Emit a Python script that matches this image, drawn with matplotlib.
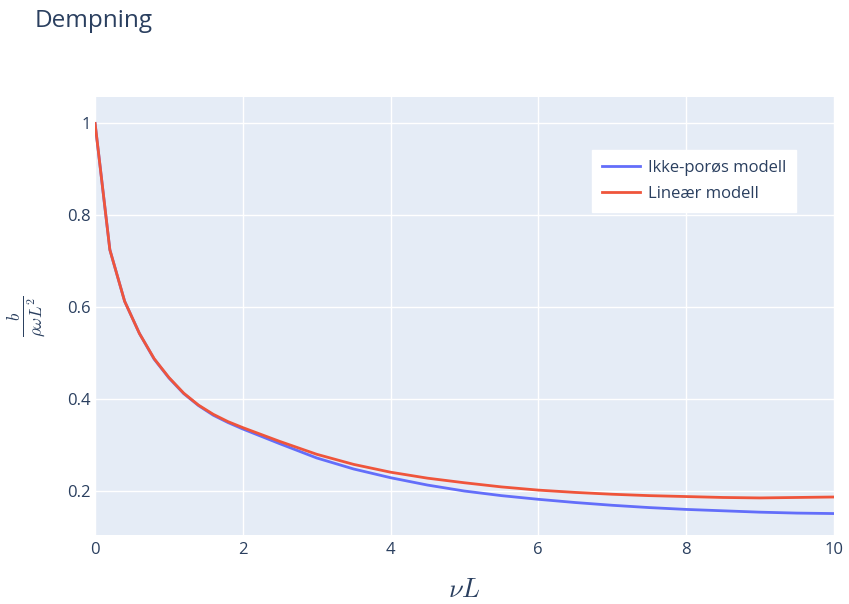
import numpy as np
import matplotlib.pyplot as plt

plt.rcParams["font.family"] = ["Open Sans", "DejaVu Sans"]
plt.rcParams["mathtext.fontset"] = "cm"

# nu*L values and damping coefficient for both models
nuL = [0, 0.2, 0.4, 0.6, 0.8, 1.0, 1.2, 1.4, 1.6, 1.8, 2.0,
       2.5, 3.0, 3.5, 4.0, 4.5, 5.0, 5.5, 6.0, 6.5, 7.0, 7.5, 8.0, 8.5, 9.0, 9.5, 10.0]
b_ikke_poros = [1.0, 0.725, 0.613, 0.543, 0.487, 0.446, 0.412, 0.386, 0.365, 0.349, 0.335,
                0.303, 0.272, 0.248, 0.229, 0.213, 0.200, 0.190, 0.182, 0.175, 0.169,
                0.164, 0.160, 0.157, 0.154, 0.152, 0.151]
b_linear = [1.0, 0.725, 0.613, 0.543, 0.488, 0.447, 0.413, 0.387, 0.367, 0.351, 0.338,
            0.308, 0.280, 0.258, 0.241, 0.228, 0.218, 0.209, 0.202, 0.197, 0.193,
            0.190, 0.188, 0.186, 0.185, 0.186, 0.187]

txt = "#2a3f5f"

fig = plt.figure(figsize=(8.49, 6.04), dpi=100)
ax = fig.add_axes([0.112, 0.114, 0.870, 0.725])
ax.set_facecolor("#E5ECF6")

ax.plot(nuL, b_ikke_poros, color="#636efa", lw=2, label="Ikke-porøs modell")
ax.plot(nuL, b_linear, color="#EF553B", lw=2, label="Lineær modell")

ax.set_xlim(0, 10)
ax.set_ylim(0.104, 1.057)
ax.set_xticks([0, 2, 4, 6, 8, 10])
ax.set_yticks([0.2, 0.4, 0.6, 0.8, 1.0])
ax.set_yticklabels(["0.2", "0.4", "0.6", "0.8", "1"])
ax.grid(True, color="white", lw=1.0)
ax.set_axisbelow(True)
for s in ax.spines.values():
    s.set_visible(False)
ax.tick_params(length=0, colors=txt, labelsize=12)
ax.tick_params(axis="y", pad=3)
ax.tick_params(axis="x", pad=5)

ax.set_xlabel(r"$\nu L$", fontsize=19, color=txt, labelpad=14)
ax.set_ylabel(r"$\frac{b}{\rho\omega L^2}$", fontsize=17.5, color=txt, labelpad=13)

leg = ax.legend(loc="upper left", bbox_to_anchor=(0.6725, 0.879), borderaxespad=0,
                fontsize=12, frameon=True, fancybox=False, borderpad=0.6,
                handlelength=2.3, handletextpad=0.45, labelspacing=0.6)
leg.get_frame().set_facecolor("white")
leg.get_frame().set_edgecolor("white")
leg.get_frame().set_alpha(1)
for t in leg.get_texts():
    t.set_color(txt)

fig.text(0.041, 0.966, "Dempning", fontsize=17.5, color=txt, va="center")

fig.savefig("out.png", dpi=100)
